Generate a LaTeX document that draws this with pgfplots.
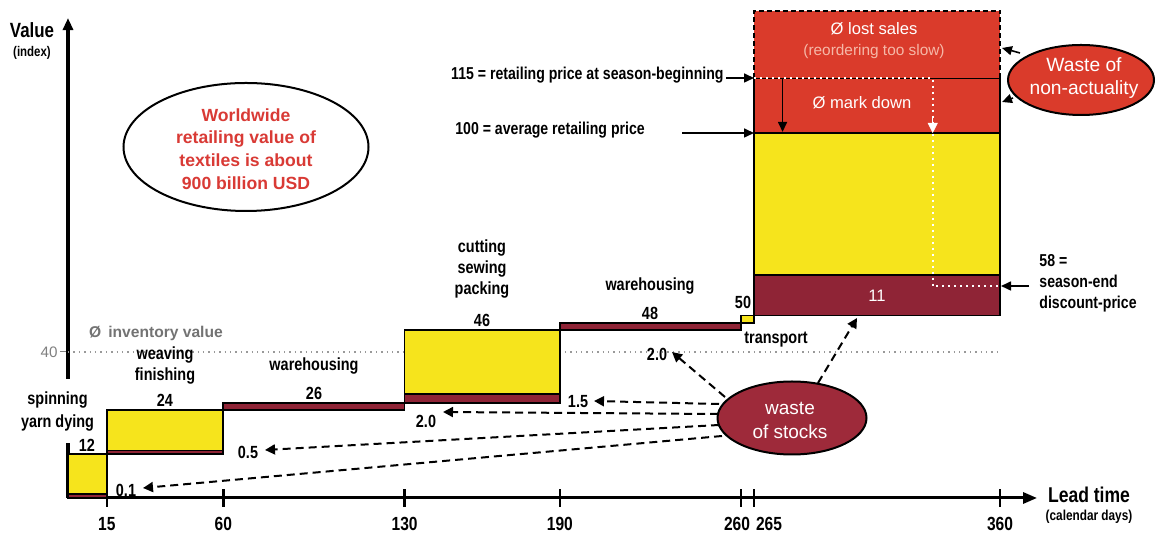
\documentclass[border=0pt]{standalone}
\usepackage{fontspec}
\setmainfont{Liberation Sans}
\newfontfamily\narrowfont{Liberation Sans}[FakeStretch=0.82]
\usepackage{pgfplots}
\pgfplotsset{compat=1.18}
\usetikzlibrary{arrows.meta}

\definecolor{barYellow}{HTML}{F6E41C}
\definecolor{stockRed}{HTML}{8F2436}
\definecolor{sellRed}{HTML}{DA3B2B}
\definecolor{wasteRed}{HTML}{9E2A3A}
\definecolor{noteRed}{HTML}{D93A35}
\definecolor{pinkText}{HTML}{F5B8A8}

\tikzset{
  nb/.style={font=\narrowfont\bfseries\fontsize{#1}{#1}\selectfont, inner sep=0pt},
  lbl/.style={font=\narrowfont\bfseries\fontsize{8.8}{10.5}\selectfont, align=center, inner sep=0pt},
  note/.style={font=\narrowfont\bfseries\fontsize{8.6}{10.5}\selectfont, inner sep=0pt},
  plain/.style={font=\fontsize{#1}{#1}\selectfont, inner sep=0pt},
  waste/.style={draw=black, line width=1pt, dash pattern=on 4pt off 2.5pt,
                -{Triangle[length=5pt,width=5pt]}},
  point/.style={draw=black, line width=0.8pt, -{Triangle[length=5pt,width=4.5pt]}},
  box/.style={draw=black, line width=0.9pt},
}

\begin{document}
\begin{tikzpicture}
\begin{axis}[
  x=1.2945pt, y=1.825pt,
  xmin=0, xmax=374.3, ymin=0, ymax=131.5,
  axis x line=bottom, axis y line=left,
  x axis line style={line width=1.5pt, -{Triangle[length=7pt,width=5.5pt]}},
  y axis line style={line width=2pt, -{Triangle[length=6pt,width=5pt]}},
  xtick={15,60,130,190,260,265,360}, xticklabels={},
  xtick align=center,
  xtick style={black, line width=1.2pt, /pgfplots/major tick length=9pt},
  ytick={40}, yticklabels={},
  ytick align=outside,
  ytick style={gray, line width=0.5pt, /pgfplots/major tick length=4pt},
  clip=false,
]
\coordinate (O) at (axis cs:0,0);

% average inventory value
\addplot[gray!80, dotted, line width=0.7pt] coordinates {(0,40) (360,40)};

% spinning, yarn dying (0-15 days)
\addplot[fill=stockRed, box] coordinates {(0,0) (15,0) (15,1) (0,1)} -- cycle;
\addplot[fill=barYellow, box] coordinates {(0,1) (15,1) (15,12) (0,12)} -- cycle;
% weaving, finishing (15-60)
\addplot[fill=stockRed, box] coordinates {(15,12) (60,12) (60,13) (15,13)} -- cycle;
\addplot[fill=barYellow, box] coordinates {(15,13) (60,13) (60,24) (15,24)} -- cycle;
% warehousing (60-130)
\addplot[fill=stockRed, box] coordinates {(60,24) (130,24) (130,26) (60,26)} -- cycle;
% cutting, sewing, packing (130-190)
\addplot[fill=stockRed, box] coordinates {(130,26) (190,26) (190,28.5) (130,28.5)} -- cycle;
\addplot[fill=barYellow, box] coordinates {(130,28.5) (190,28.5) (190,46) (130,46)} -- cycle;
% warehousing (190-260)
\addplot[fill=stockRed, box] coordinates {(190,46) (260,46) (260,48) (190,48)} -- cycle;
% transport (260-265)
\addplot[fill=barYellow, box] coordinates {(260,48) (265,48) (265,50) (260,50)} -- cycle;
% retail season (265-360)
\addplot[fill=stockRed, box] coordinates {(265,50) (360,50) (360,61) (265,61)} -- cycle;
\addplot[fill=barYellow, box] coordinates {(265,61) (360,61) (360,100) (265,100)} -- cycle;
\addplot[fill=sellRed, box] coordinates {(265,100) (360,100) (360,115) (265,115)} -- cycle;
\addplot[fill=sellRed, draw=black, line width=0.9pt, dash pattern=on 2.5pt off 1.5pt]
  coordinates {(265,115) (265,133.5) (360,133.5) (360,115)};

% price path: season-beginning price down to the season-end discount price
\addplot[white, line width=1.1pt, dash pattern=on 1.1pt off 1.9pt]
  coordinates {(265,115) (334,115) (334,58) (360,58)};
\draw[white, -{Triangle[length=5pt,width=5pt]}] (axis cs:334,104) -- (axis cs:334,100);
\draw[line width=0.8pt, -{Triangle[length=5pt,width=4.5pt]}] (axis cs:276,115) -- (axis cs:276,100.3);
\end{axis}

\begin{scope}[shift={(O)}, x=0.5pt, y=-0.5pt, shift={(-68,-498)}]
% axis titles
\node[nb=10.3] at (32,30) {Value};
\node[nb=7] at (32,53) {(index)};
\node[nb=10.7] at (1089,495) {Lead time};
\node[nb=7.2] at (1089,517) {(calendar days)};

% tick labels
\foreach \px/\t in {106.8/15, 223.3/60, 404.6/130, 559.9/190, 737/260, 769/265, 1000/360}
  \node[nb=9.5] at (\px,524) {\t};
\node[plain=7.6, text=gray, anchor=east] at (58,352) {40};
\node[font=\bfseries\fontsize{7.8}{9}\selectfont, text=gray!90!black, inner sep=0pt] at (156,333) {Ø\, inventory value};

% process steps
\node[lbl, fill=white, inner xsep=2pt, inner ysep=6pt, font=\narrowfont\bfseries\fontsize{8.8}{11.5}\selectfont] at (57.5,411) {spinning\\yarn dying};
\node[lbl] at (87,445) {12};
\node[lbl] at (165,365) {weaving\\finishing};
\node[lbl] at (165,400) {24};
\node[lbl] at (314,366) {warehousing};
\node[lbl] at (314,393) {26};
\node[lbl] at (482,269) {cutting\\sewing\\packing};
\node[lbl] at (482,320) {46};
\node[lbl] at (650,286) {warehousing};
\node[lbl] at (650,313) {48};
\node[lbl] at (743,302) {50};
\node[lbl] at (776,340) {transport};

% waste of stocks
\draw[fill=wasteRed, line width=1pt] (792,418) ellipse [x radius=74.5, y radius=36.5];
\node[plain=9.5, text=white] at (790,408) {waste};
\node[plain=9.5, text=white] at (790,432) {of stocks};
\draw[waste] (725,397) -- (672,352);
\draw[waste] (719,404) -- (594,401);
\draw[waste] (718,414) -- (443,412);
\draw[waste] (719,425) -- (265,450);
\draw[waste] (722,436) -- (143,488);
\draw[waste] (818,383) -- (857,318);
\node[lbl] at (657,354) {2.0};
\node[lbl] at (578,402) {1.5};
\node[lbl] at (426,421) {2.0};
\node[lbl] at (248,452) {0.5};
\node[lbl] at (126,490) {0.1};

% retail prices
\node[note, anchor=east] at (724,75) {115 = retailing price at season-beginning};
\draw[point] (726,78) -- (754,78);
\node[note, anchor=west] at (455,130) {100 = average retailing price};
\draw[point] (682,133) -- (754,133);
\node[note, anchor=west, align=left] at (1039,283) {58 =\\season-end\\discount-price};
\draw[point] (1029,286) -- (1001,286);

\node[plain=8.3, text=white] at (874,29) {Ø lost sales};
\node[plain=7.7, text=pinkText] at (874,52) {(reordering too slow)};
\node[plain=8.3, text=white] at (862,103) {Ø mark down};
\node[plain=8.3, text=white] at (877,296) {11};

% waste of non-actuality
\draw[fill=sellRed, line width=1pt] (1081,80) ellipse [x radius=73, y radius=35];
\node[plain=9.6, text=white] at (1084,65) {Waste of};
\node[plain=9.6, text=white] at (1084,90) {non-actuality};
\draw[point] (1020,53) -- (1002,48);
\draw[point] (1013,98) -- (1002,102);

% worldwide retail value
\draw[fill=white, line width=1pt] (246,147) ellipse [x radius=122.5, y radius=64];
\node[font=\bfseries\fontsize{8.8}{11.3}\selectfont, text=noteRed, align=center, inner sep=0pt]
  at (246,149) {Worldwide\\retailing value of\\textiles is about\\900 billion USD};

\pgfresetboundingbox
\path[use as bounding box] (0,0) rectangle (1156,534);
\end{scope}
\end{tikzpicture}
\end{document}
